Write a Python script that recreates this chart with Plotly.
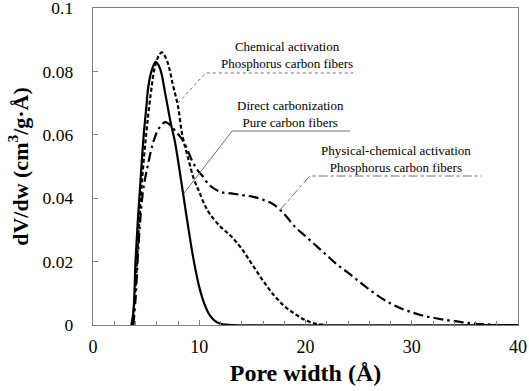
import plotly.graph_objects as go

# Direct carbonization - Pure carbon fibers (solid)
direct_x = [3.6, 3.8, 4.0, 4.2, 4.4, 4.6, 4.8, 5.0, 5.2, 5.5, 5.9, 6.3, 6.8, 7.3, 7.7, 8.0, 8.5,
            9.0, 9.5, 10.0, 10.5, 11.0, 11.5, 12.0, 12.5, 13.0, 40.0]
direct_y = [0, 0.004, 0.02, 0.032, 0.042, 0.052, 0.061, 0.068, 0.075, 0.080, 0.083, 0.081, 0.073,
            0.064, 0.058, 0.052, 0.041, 0.030, 0.020, 0.012, 0.0065, 0.0030, 0.0012, 0.0004,
            0.0001, 0, 0]

# Chemical activation - Phosphorus carbon fibers (dashed)
chem_x = [3.7, 4.0, 4.3, 4.6, 5.0, 5.4, 5.8, 6.2, 6.5, 7.0, 7.5, 8.0, 8.4, 9.0, 9.5, 10.0, 10.5,
          11.0, 12.0, 13.0, 14.0, 15.0, 16.0, 17.0, 18.0, 19.0, 20.0, 21.0, 22.0]
chem_y = [0, 0.012, 0.030, 0.045, 0.060, 0.072, 0.081, 0.085, 0.086, 0.083, 0.076, 0.069, 0.060,
          0.052, 0.046, 0.042, 0.038, 0.035, 0.031, 0.028, 0.024, 0.019, 0.014, 0.0095, 0.006,
          0.0035, 0.0015, 0.0004, 0]

# Physical-chemical activation - Phosphorus carbon fibers (dash-dot)
phys_x = [3.8, 4.0, 4.3, 4.7, 5.2, 5.7, 6.2, 6.8, 7.3, 7.8, 8.3, 8.8, 9.3, 9.8, 10.3, 11.0, 12.0,
          13.0, 14.0, 15.0, 16.0, 17.0, 18.0, 19.0, 20.0, 21.0, 22.0, 23.0, 24.0, 25.0, 26.0,
          27.0, 28.0, 29.0, 30.0, 31.0, 32.0, 33.0, 34.0, 35.0, 36.0, 37.0, 38.0]
phys_y = [0, 0.008, 0.026, 0.042, 0.051, 0.058, 0.062, 0.064, 0.063, 0.061, 0.059, 0.056, 0.052,
          0.049, 0.047, 0.044, 0.042, 0.0415, 0.041, 0.0405, 0.0395, 0.038, 0.035, 0.031, 0.028,
          0.025, 0.022, 0.019, 0.0165, 0.0138, 0.0112, 0.0088, 0.0068, 0.0052, 0.0040, 0.0030,
          0.0023, 0.0017, 0.0012, 0.0008, 0.0004, 0.0002, 0]

y_tickvals = [0, 0.02, 0.04, 0.06, 0.08, 0.1]
y_ticktext = ["0", "0.02", "0.04", "0.06", "0.08", "0.1"]
x_tickvals = [0, 10, 20, 30, 40]
x_ticktext = ["0", "10", "20", "30", "40"]

# Labels: (text, text_x, text_y, leader points, leader dash)
labels = [
    ("Chemical activation<br>Phosphorus carbon fibers", 18.3, 0.0852,
     [(8.0, 0.070), (10.6, 0.0795), (24.5, 0.0795)], "dot"),
    ("Direct carbonization<br>Pure carbon fibers", 18.6, 0.0665,
     [(8.55, 0.0415), (13.1, 0.0612), (24.2, 0.0612)], "solid"),
    ("Physical-chemical activation<br>Phosphorus carbon fibers", 28.5, 0.0523,
     [(17.6, 0.0363), (20.4, 0.047), (36.6, 0.047)], "dashdot"),
]

FONT = "Liberation Serif"

fig = go.Figure()
fig.add_trace(go.Scatter(x=direct_x, y=direct_y, mode="lines", line_shape="spline",
                         line=dict(color="black", width=2.2, dash="solid"), hoverinfo="skip"))
fig.add_trace(go.Scatter(x=chem_x, y=chem_y, mode="lines", line_shape="spline",
                         line=dict(color="black", width=2.2, dash="4px,2.5px"), hoverinfo="skip"))
fig.add_trace(go.Scatter(x=phys_x, y=phys_y, mode="lines", line_shape="spline",
                         line=dict(color="black", width=2.2, dash="10px,4px,2.5px,4px"), hoverinfo="skip"))

for text, tx, ty, pts, dash in labels:
    fig.add_trace(go.Scatter(x=[p[0] for p in pts], y=[p[1] for p in pts], mode="lines",
                             line=dict(color="#6e6e6e", width=1, dash=dash), hoverinfo="skip"))
    fig.add_annotation(x=tx, y=ty, xref="x", yref="y", text=text, showarrow=False,
                       font=dict(family=FONT, size=13, color="black"), align="center")

fig.update_layout(
    width=529, height=391,
    margin=dict(l=93, r=11, t=8, b=66, autoexpand=False),
    paper_bgcolor="white", plot_bgcolor="white",
    showlegend=False,
    font=dict(family=FONT, color="black"),
)
fig.update_xaxes(
    range=[0, 40], tickvals=x_tickvals, ticktext=x_ticktext,
    ticks="inside", ticklen=5, tickcolor="#808080",
    minor=dict(dtick=2, ticks="inside", ticklen=4, tickcolor="#808080"),
    showgrid=False, zeroline=False, automargin=False,
    showline=True, linecolor="#808080", linewidth=1.3, mirror=True,
    tickfont=dict(family=FONT, size=18, color="black"),
    ticklabelstandoff=5, ticklabeloverflow="allow",
    title=dict(text="<b>Pore width (Å)</b>", font=dict(family=FONT, size=24, color="black"), standoff=8),
)
fig.update_yaxes(
    range=[0, 0.1], tickvals=y_tickvals, ticktext=y_ticktext,
    ticks="inside", ticklen=5, tickcolor="#808080",
    showgrid=False, zeroline=False, automargin=False,
    showline=True, linecolor="#808080", linewidth=1.3, mirror=True,
    tickfont=dict(family=FONT, size=17.5, color="black"),
    ticklabelstandoff=15, ticklabeloverflow="allow",
    title=dict(text="<b>dV/dw (cm<sup>3</sup>/g·Å)</b>", font=dict(family=FONT, size=22, color="black"), standoff=8),
)

fig.write_html("out.html", config={"displayModeBar": False, "staticPlot": True},
               post_script="document.body.style.margin='0';")
